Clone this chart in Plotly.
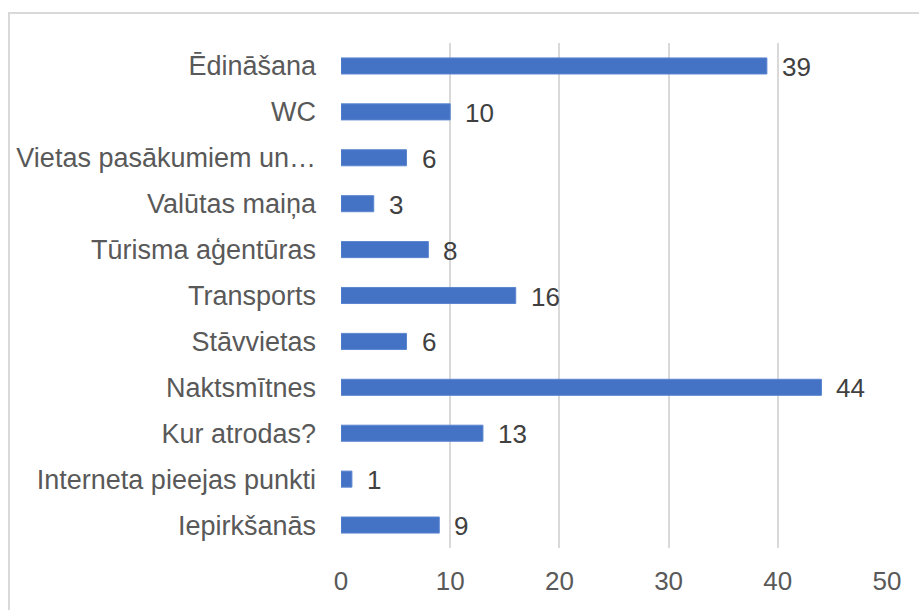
import plotly.graph_objects as go

categories = ["Ēdināšana", "WC", "Vietas pasākumiem un…", "Valūtas maiņa",
              "Tūrisma aģentūras", "Transports", "Stāvvietas", "Naktsmītnes",
              "Kur atrodas?", "Interneta pieejas punkti", "Iepirkšanās"]
values = [39, 10, 6, 3, 8, 16, 6, 44, 13, 1, 9]
x_ticks = [0, 10, 20, 30, 40, 50]

W, H = 919, 610
L, R, T, B = 341, 32, 43, 62
pw, ph = W - L - R, H - T - B
FONT = "Liberation Sans, Arial, sans-serif"

def px_x(p):
    return (p - L) / pw

def px_y(p):
    return (H - B - p) / ph

fig = go.Figure()
fig.add_trace(go.Bar(
    x=values, y=categories, orientation="h",
    marker=dict(color="#4472C4", line=dict(color="#5b86d0", width=1)),
    width=0.35, hoverinfo="skip",
))

for c, v in zip(categories, values):
    fig.add_annotation(x=v, y=c, text=str(v), showarrow=False,
                       xanchor="left", yanchor="middle", xshift=13, yshift=-1,
                       font=dict(family=FONT, size=26, color="#404040"))

fig.add_shape(type="rect", xref="paper", yref="paper",
              x0=px_x(9), x1=px_x(930), y0=px_y(625), y1=px_y(13),
              line=dict(color="#d9d9d9", width=2), fillcolor="rgba(0,0,0,0)", layer="below")

fig.update_layout(
    width=W, height=H,
    margin=dict(l=L, r=R, t=T, b=B, autoexpand=False),
    paper_bgcolor="white", plot_bgcolor="white",
    showlegend=False,
    font=dict(family=FONT, size=26, color="#595959"),
    xaxis=dict(range=[0, 50], tickvals=x_ticks, showgrid=True, gridcolor="#d9d9d9",
               gridwidth=2, zeroline=False, showline=False, ticks="",
               ticklabelstandoff=15, tickfont=dict(family=FONT, size=26, color="#595959"),
               fixedrange=True),
    yaxis=dict(autorange="reversed", showgrid=False, zeroline=False, showline=False,
               ticks="", ticklabelstandoff=24, tickfont=dict(family=FONT, size=27, color="#595959"),
               fixedrange=True),
)

fig.write_html("out.html", config={"displayModeBar": False, "staticPlot": True},
               post_script="document.body.style.margin='0';document.body.style.overflow='hidden';")
